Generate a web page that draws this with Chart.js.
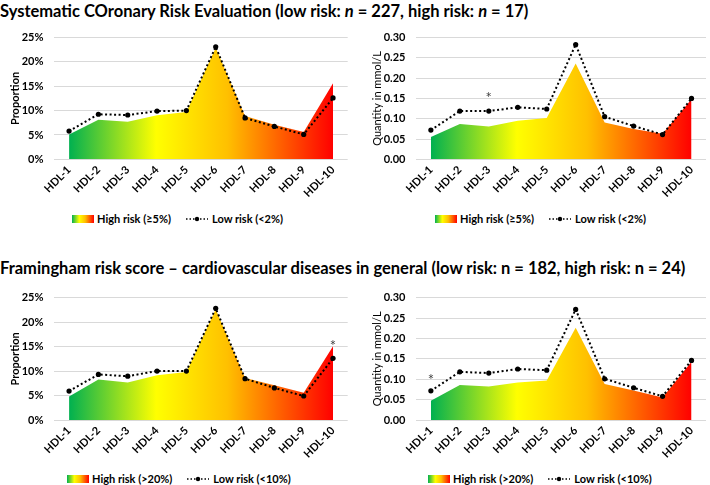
<!DOCTYPE html>
<html>
<head>
<meta charset="utf-8">
<script src="https://cdn.jsdelivr.net/npm/chart.js@4.4.1/dist/chart.umd.min.js"></script>
<style>
  body { margin: 0; width: 710px; height: 485px; background: #fff; position: relative; overflow: hidden; font-family: Lato, sans-serif; }
  .title { position: absolute; left: 0; font-weight: bold; font-size: 16.5px; color: #000; white-space: nowrap; }
  canvas { position: absolute; }
  .legend { position: absolute; display: flex; align-items: center; font: bold 11px Lato, sans-serif; color: #000; white-space: nowrap; }
  .swatch { width: 22px; height: 8px; margin-right: 3px; background: linear-gradient(to right, #00b050, #ffff00 33%, #ffc000 60%, #ff0000); }
  .legend svg { margin: 0 4px 0 15px; }
</style>
</head>
<body>
<div class="title" style="top:1px">Systematic COronary Risk Evaluation (low risk: <i>n</i> = 227, high risk: <i>n</i> = 17)</div>
<div class="title" style="top:258px">Framingham risk score – cardiovascular diseases in general (low risk: n = 182, high risk: n = 24)</div>

<canvas id="c1" width="360" height="190" style="left:0;top:20px"></canvas>
<canvas id="c2" width="348" height="190" style="left:362px;top:20px"></canvas>
<canvas id="c3" width="360" height="190" style="left:0;top:280px"></canvas>
<canvas id="c4" width="348" height="190" style="left:362px;top:280px"></canvas>

<div class="legend" style="left:72px;top:212px"><div class="swatch"></div>High risk (≥5%)<svg width="22" height="8"><line x1="0" y1="4" x2="22" y2="4" stroke="#000" stroke-width="1.5" stroke-dasharray="1.5 2"/><circle cx="11" cy="4" r="2.2"/></svg>Low risk (&lt;2%)</div>
<div class="legend" style="left:435px;top:212px"><div class="swatch"></div>High risk (≥5%)<svg width="22" height="8"><line x1="0" y1="4" x2="22" y2="4" stroke="#000" stroke-width="1.5" stroke-dasharray="1.5 2"/><circle cx="11" cy="4" r="2.2"/></svg>Low risk (&lt;2%)</div>
<div class="legend" style="left:67px;top:472px"><div class="swatch"></div>High risk (&gt;20%)<svg width="22" height="8"><line x1="0" y1="4" x2="22" y2="4" stroke="#000" stroke-width="1.5" stroke-dasharray="1.5 2"/><circle cx="11" cy="4" r="2.2"/></svg>Low risk (&lt;10%)</div>
<div class="legend" style="left:428px;top:472px"><div class="swatch"></div>High risk (&gt;20%)<svg width="22" height="8"><line x1="0" y1="4" x2="22" y2="4" stroke="#000" stroke-width="1.5" stroke-dasharray="1.5 2"/><circle cx="11" cy="4" r="2.2"/></svg>Low risk (&lt;10%)</div>

<script>
const hdlLabels = ['HDL-1', 'HDL-2', 'HDL-3', 'HDL-4', 'HDL-5', 'HDL-6', 'HDL-7', 'HDL-8', 'HDL-9', 'HDL-10'];

// SCORE panels
const scoreHighPct  = [5.1, 8.1, 7.7, 9.05, 9.7, 22.9, 8.9, 7.1, 5.6, 15.6];
const scoreLowPct   = [5.8, 9.25, 9.1, 9.9, 10.0, 23.1, 8.5, 6.75, 5.1, 12.6];
const scoreHighMmol = [0.055, 0.087, 0.081, 0.095, 0.102, 0.236, 0.091, 0.075, 0.063, 0.148];
const scoreLowMmol  = [0.072, 0.119, 0.119, 0.128, 0.124, 0.283, 0.105, 0.082, 0.061, 0.150];

// Framingham panels
const framHighPct  = [4.8, 8.25, 7.65, 9.15, 9.8, 22.6, 8.6, 7.1, 5.55, 15.05];
const framLowPct   = [5.9, 9.3, 8.95, 10.0, 10.0, 22.8, 8.45, 6.55, 4.9, 12.6];
const framHighMmol = [0.047, 0.086, 0.082, 0.092, 0.097, 0.226, 0.088, 0.072, 0.055, 0.143];
const framLowMmol  = [0.0715, 0.118, 0.115, 0.125, 0.122, 0.271, 0.101, 0.079, 0.058, 0.146];

const pctTicks  = [0, 5, 10, 15, 20, 25];
const mmolTicks = [0, 0.05, 0.10, 0.15, 0.20, 0.25, 0.30];

const tickFont = { family: 'Lato', weight: 'bold', size: 11 };

function areaGradient(chart) {
    const { ctx, chartArea, scales } = chart;
    if (!chartArea) return 'rgba(0,0,0,0)';
    const x0 = scales.x.getPixelForValue(0);
    const x1 = scales.x.getPixelForValue(hdlLabels.length - 1);
    const g = ctx.createLinearGradient(x0, 0, x1, 0);
    g.addColorStop(0, '#00b050');
    g.addColorStop(0.33, '#ffff00');
    g.addColorStop(0.6, '#ffc000');
    g.addColorStop(1, '#ff0000');
    return g;
}

// draws the significance asterisk above a point
const starPlugin = {
    id: 'stars',
    afterDatasetsDraw(chart, args, opts) {
        if (opts.index == null) return;
        const { ctx, scales } = chart;
        const val = chart.data.datasets[opts.dataset].data[opts.index];
        const x = scales.x.getPixelForValue(opts.index);
        const y = scales.y.getPixelForValue(val) + opts.dy;
        ctx.save();
        ctx.font = '15px Lato';
        ctx.fillStyle = '#404040';
        ctx.textAlign = 'center';
        ctx.textBaseline = 'middle';
        ctx.fillText('*', x, y + 3);
        ctx.restore();
    }
};

function makePanel(id, high, low, yTicks, yTitle, titleBold, isPct, star, pad) {
    return new Chart(document.getElementById(id), {
        type: 'line',
        data: {
            labels: hdlLabels,
            datasets: [{
                label: 'Low risk',
                data: low,
                borderColor: '#000',
                borderWidth: 2,
                borderDash: [2, 2.5],
                pointRadius: 2.6,
                pointBackgroundColor: '#000',
                pointBorderWidth: 0,
                fill: false,
                tension: 0,
                order: 0
            }, {
                label: 'High risk',
                data: high,
                borderWidth: 0,
                pointRadius: 0,
                fill: 'origin',
                backgroundColor: (c) => areaGradient(c.chart),
                tension: 0,
                order: 1
            }]
        },
        options: {
            responsive: false,
            animation: false,
            layout: { padding: { top: pad.top, right: pad.right, left: 0, bottom: 0 } },
            plugins: {
                legend: { display: false },
                tooltip: { enabled: false },
                stars: star
            },
            scales: {
                x: {
                    offset: true,
                    grid: { display: false, drawTicks: false },
                    border: { display: false },
                    ticks: { minRotation: 45, maxRotation: 45, autoSkip: false, padding: 4, font: tickFont, color: '#000' },
                    afterFit: (s) => { s.height = pad.xh; }
                },
                y: {
                    min: 0,
                    max: yTicks[yTicks.length - 1],
                    grid: { color: '#d9d9d9', drawTicks: false },
                    border: { display: false },
                    ticks: {
                        padding: 11,
                        font: tickFont,
                        color: '#000',
                        callback: (v) => isPct ? v + '%' : v.toFixed(2)
                    },
                    afterBuildTicks: (s) => { s.ticks = yTicks.map(v => ({ value: v })); },
                    title: {
                        display: true,
                        text: yTitle,
                        color: '#000',
                        padding: { top: 9, bottom: 0 },
                        font: { family: 'Lato', size: 11, weight: titleBold ? 'bold' : 'normal' }
                    },
                    afterFit: (s) => { s.width = 54.4; }
                }
            }
        },
        plugins: [starPlugin]
    });
}

makePanel('c1', scoreHighPct, scoreLowPct, pctTicks, 'Proportion', true, true, {}, { top: 12.3, right: 12.3, xh: 50.7 });
makePanel('c2', scoreHighMmol, scoreLowMmol, mmolTicks, 'Quantity in mmol/L', false, false, { index: 2, dataset: 0, dy: -16 }, { top: 12.3, right: 2, xh: 50.7 });
makePanel('c3', framHighPct, framLowPct, pctTicks, 'Proportion', true, true, { index: 9, dataset: 1, dy: -3 }, { top: 12.7, right: 12.3, xh: 50 });
makePanel('c4', framHighMmol, framLowMmol, mmolTicks, 'Quantity in mmol/L', false, false, { index: 0, dataset: 0, dy: -14 }, { top: 12.7, right: 2, xh: 50 });
</script>
</body>
</html>
